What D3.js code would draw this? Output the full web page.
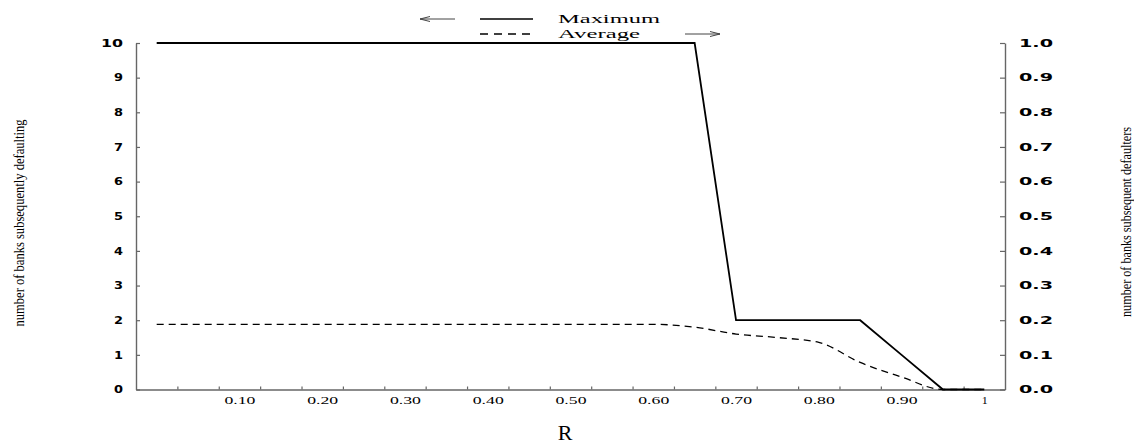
<!DOCTYPE html>
<html>
<head>
<meta charset="utf-8">
<script src="https://cdn.jsdelivr.net/npm/d3@7/dist/d3.min.js"></script>
<style>
  html, body { margin: 0; padding: 0; background: #fff; }
  svg { display: block; }
</style>
</head>
<body>
<svg id="chart" width="1134" height="444"></svg>
<script>
// Default rate R on the x axis, sampled every 0.05
const rValues = [0.00, 0.05, 0.10, 0.15, 0.20, 0.25, 0.30, 0.35, 0.40, 0.45, 0.50,
                 0.55, 0.60, 0.65, 0.70, 0.75, 0.80, 0.85, 0.90, 0.95, 1.00];
// Largest number of banks that subsequently default
const maximumDefaults = [10, 10, 10, 10, 10, 10, 10, 10, 10, 10, 10,
                         10, 10, 10, 2, 2, 2, 2, 1, 0, 0];
// Mean number of subsequent defaulters
const averageDefaults = [1.88, 1.88, 1.88, 1.88, 1.88, 1.88, 1.88, 1.88, 1.88, 1.88, 1.88,
                         1.88, 1.88, 1.80, 1.60, 1.50, 1.36, 0.78, 0.36, 0.00, 0.00];

const leftTicks = [0, 1, 2, 3, 4, 5, 6, 7, 8, 9, 10];
const rightTicks = [0.0, 0.1, 0.2, 0.3, 0.4, 0.5, 0.6, 0.7, 0.8, 0.9, 1.0];
const xLabelTicks = [0.1, 0.2, 0.3, 0.4, 0.5, 0.6, 0.7, 0.8, 0.9, 1.0];
const xMinorTicks = [0.025, 0.075, 0.125, 0.175, 0.225, 0.275, 0.325, 0.375, 0.425, 0.475,
                     0.525, 0.575, 0.625, 0.675, 0.725, 0.775, 0.825, 0.875, 0.925, 0.975];
const seriesNames = ["Maximum", "Average"];

const plot = { left: 136, right: 1005, top: 43, bottom: 389.5 };
const axisColor = "#666";

const svg = d3.select("#chart");

const x = d3.scaleLinear().domain([-0.025, 1.025]).range([plot.left, plot.right]);
const y = d3.scaleLinear().domain([0, 10]).range([plot.bottom, plot.top]);
const yRight = d3.scaleLinear().domain([0, 1]).range([plot.bottom, plot.top]);

const boldNum = "'DejaVu Sans', sans-serif";
const serif = "'Liberation Serif', 'Times New Roman', serif";

function styleAxis(g) {
  g.select(".domain").attr("stroke", axisColor).attr("stroke-width", 1.4);
  g.selectAll(".tick line").attr("stroke", axisColor).attr("stroke-width", 1.2);
  g.selectAll("text").attr("fill", "#000");
}

// Left axis: counts of banks
const gLeft = svg.append("g")
  .attr("transform", `translate(${plot.left},0)`)
  .call(d3.axisLeft(y).tickValues(leftTicks).tickSize(-4).tickSizeOuter(0).tickPadding(13)
        .tickFormat(d3.format("d")));
styleAxis(gLeft);
gLeft.selectAll("text")
  .attr("font-family", boldNum).attr("font-weight", "bold").attr("font-size", 10)
  .attr("lengthAdjust", "spacingAndGlyphs")
  .attr("textLength", function() { const n = this.textContent.length; return n === 1 ? 9 : n * 11; });

// Right axis: share of banks
const gRight = svg.append("g")
  .attr("transform", `translate(${plot.right},0)`)
  .call(d3.axisRight(yRight).tickValues(rightTicks).tickSize(-5).tickSizeOuter(0).tickPadding(14)
        .tickFormat(d3.format(".1f")));
styleAxis(gRight);
gRight.selectAll("text")
  .attr("font-family", boldNum).attr("font-weight", "bold").attr("font-size", 10)
  .attr("lengthAdjust", "spacingAndGlyphs")
  .attr("textLength", 34);

// Bottom axis: small inward ticks between the labelled values
const gBottomTicks = svg.append("g")
  .attr("transform", `translate(0,${plot.bottom})`)
  .call(d3.axisBottom(x).tickValues(xMinorTicks).tickSize(-3).tickSizeOuter(0).tickFormat(""));
styleAxis(gBottomTicks);

const gBottomLabels = svg.append("g")
  .attr("transform", `translate(0,${plot.bottom})`)
  .call(d3.axisBottom(x).tickValues(xLabelTicks).tickSize(0).tickPadding(8)
        .tickFormat(d => d === 1 ? "1" : d3.format(".2f")(d)));
gBottomLabels.select(".domain").remove();
gBottomLabels.selectAll("text")
  .attr("fill", "#000")
  .attr("font-family", serif).attr("font-size", 9.5)
  .attr("lengthAdjust", "spacingAndGlyphs")
  .attr("textLength", function() { return this.textContent.length === 1 ? 6 : 31; });

// Axis titles
svg.append("text")
  .attr("transform", "translate(19,223) rotate(-90)")
  .attr("text-anchor", "middle").attr("dominant-baseline", "central")
  .attr("font-family", serif).attr("font-size", 14)
  .attr("textLength", 207).attr("lengthAdjust", "spacingAndGlyphs")
  .text("number of banks subsequently defaulting");

svg.append("text")
  .attr("transform", "translate(1126,222) rotate(-90)")
  .attr("text-anchor", "middle").attr("dominant-baseline", "central")
  .attr("font-family", serif).attr("font-size", 14)
  .attr("textLength", 190).attr("lengthAdjust", "spacingAndGlyphs")
  .text("number of banks subsequent defaulters");

svg.append("text")
  .attr("x", 565).attr("y", 439.5)
  .attr("text-anchor", "middle")
  .attr("font-family", serif).attr("font-size", 22)
  .text("R");

// Series lines
const rows = rValues.map((r, i) => ({ r, max: maximumDefaults[i], avg: averageDefaults[i] }));

svg.append("path")
  .datum(rows)
  .attr("fill", "none").attr("stroke", "#000").attr("stroke-width", 1.8)
  .attr("stroke-linejoin", "miter")
  .attr("d", d3.line().x(d => x(d.r)).y(d => y(d.max)));

svg.append("path")
  .datum(rows)
  .attr("fill", "none").attr("stroke", "#000").attr("stroke-width", 1.3)
  .attr("stroke-dasharray", "7,5")
  .attr("d", d3.line().curve(d3.curveMonotoneX).x(d => x(d.r)).y(d => y(d.avg)));

// Legend
const legend = svg.append("g");
legend.append("line")
  .attr("x1", 480).attr("x2", 533).attr("y1", 19).attr("y2", 19)
  .attr("stroke", "#000").attr("stroke-width", 1.6);
legend.append("line")
  .attr("x1", 480).attr("x2", 533).attr("y1", 34).attr("y2", 34)
  .attr("stroke", "#000").attr("stroke-width", 1.4).attr("stroke-dasharray", "8,6");
legend.append("text")
  .attr("x", 558).attr("y", 23)
  .attr("font-family", serif).attr("font-size", 13)
  .attr("textLength", 102).attr("lengthAdjust", "spacingAndGlyphs")
  .text(seriesNames[0]);
legend.append("text")
  .attr("x", 558).attr("y", 37.5)
  .attr("font-family", serif).attr("font-size", 13)
  .attr("textLength", 82).attr("lengthAdjust", "spacingAndGlyphs")
  .text(seriesNames[1]);

// Open arrows either side of the legend
const arrowStroke = "#444";
legend.append("path")
  .attr("fill", "none").attr("stroke", arrowStroke).attr("stroke-width", 1)
  .attr("d", "M420,19 H455 M420,19 L430,16.5 M420,19 L430,21.5");
legend.append("path")
  .attr("fill", "none").attr("stroke", arrowStroke).attr("stroke-width", 1)
  .attr("d", "M685,34 H720 M720,34 L710,31.5 M720,34 L710,36.5");
</script>
</body>
</html>
